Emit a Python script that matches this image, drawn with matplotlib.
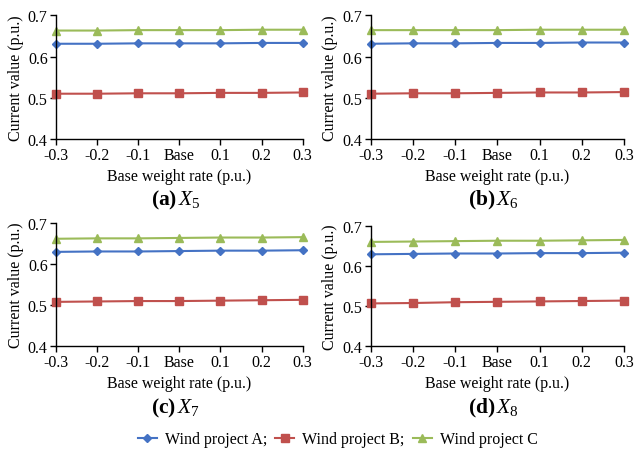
import matplotlib
matplotlib.use("Agg")
import matplotlib.pyplot as plt
from matplotlib.lines import Line2D

plt.rcParams['font.family'] = ['Liberation Serif', 'DejaVu Serif']
plt.rcParams['mathtext.fontset'] = 'custom'
plt.rcParams['mathtext.rm'] = 'Liberation Serif'
plt.rcParams['mathtext.it'] = 'Liberation Serif:italic'
plt.rcParams['mathtext.bf'] = 'Liberation Serif:bold'

# Data
rates = ['-0.3', '-0.2', '-0.1', 'Base', '0.1', '0.2', '0.3']
series_names = ['Wind project A;', 'Wind project B;', 'Wind project C']

x5_a = [0.631, 0.631, 0.632, 0.632, 0.632, 0.633, 0.633]
x5_b = [0.510, 0.510, 0.511, 0.511, 0.512, 0.512, 0.513]
x5_c = [0.663, 0.663, 0.664, 0.664, 0.664, 0.665, 0.665]

x6_a = [0.631, 0.632, 0.632, 0.633, 0.633, 0.634, 0.634]
x6_b = [0.510, 0.511, 0.511, 0.512, 0.513, 0.513, 0.514]
x6_c = [0.664, 0.664, 0.664, 0.664, 0.665, 0.665, 0.665]

x7_a = [0.630, 0.631, 0.631, 0.632, 0.633, 0.633, 0.634]
x7_b = [0.508, 0.509, 0.510, 0.510, 0.511, 0.512, 0.513]
x7_c = [0.662, 0.663, 0.663, 0.664, 0.665, 0.665, 0.666]

x8_a = [0.630, 0.631, 0.632, 0.632, 0.633, 0.633, 0.634]
x8_b = [0.507, 0.508, 0.510, 0.511, 0.512, 0.513, 0.514]
x8_c = [0.661, 0.662, 0.663, 0.664, 0.664, 0.665, 0.666]

colors = ['#4472C4', '#C0504D', '#9BBB59']
markers = ['D', 's', '^']
msizes = [4, 6, 6]

panels = [
    ('a', '5', [x5_a, x5_b, x5_c]),
    ('b', '6', [x6_a, x6_b, x6_c]),
    ('c', '7', [x7_a, x7_b, x7_c]),
    ('d', '8', [x8_a, x8_b, x8_c]),
]

# axes positions [left, bottom, width, height] in figure fractions
positions = [
    [0.088, 0.690, 0.388, 0.274],
    [0.583, 0.690, 0.398, 0.274],
    [0.088, 0.232, 0.388, 0.272],
    [0.583, 0.232, 0.398, 0.265],
]
label_y = [0.557, 0.557, 0.097, 0.097]

fig = plt.figure(figsize=(6.36, 4.52), dpi=100)

for (letter, idx, data), pos, ly in zip(panels, positions, label_y):
    ax = fig.add_axes(pos)
    x = range(len(rates))
    for vals, c, m, ms in zip(data, colors, markers, msizes):
        ax.plot(x, vals, color=c, marker=m, markersize=ms, linewidth=1.5,
                clip_on=False)
    ax.set_xlim(0, len(rates) - 1)
    ax.set_ylim(0.4, 0.7)
    ax.set_yticks([0.4, 0.5, 0.6, 0.7])
    ax.set_yticklabels(['0.4', '0.5', '0.6', '0.7'])
    ax.set_xticks(list(x))
    ax.set_xticklabels(rates)
    ax.spines['top'].set_visible(False)
    ax.spines['right'].set_visible(False)
    for s in ['left', 'bottom']:
        ax.spines[s].set_linewidth(1.0)
    ax.tick_params(axis='both', labelsize=11.5, length=4, width=1.0, pad=2)
    ax.set_xlabel('Base weight rate (p.u.)', fontsize=11.5, labelpad=3)
    ax.set_ylabel('Current value (p.u.)', fontsize=11.5, labelpad=3)
    cx = pos[0] + pos[2] / 2 - 0.006
    fig.text(cx, ly, r'$\mathbf{(' + letter + r')}\,X_{' + idx + '}$',
             ha='center', va='center', fontsize=15.5)

handles = [Line2D([0], [0], color=c, marker=m, markersize=ms, linewidth=1.5)
           for c, m, ms in zip(colors, markers, msizes)]
fig.legend(handles, series_names, loc='center', bbox_to_anchor=(0.531, 0.026),
           ncol=3, frameon=False, fontsize=11.5, handlelength=1.2,
           columnspacing=0.5, handletextpad=0.5, borderpad=0.2)

fig.savefig('out.png', dpi=100)
